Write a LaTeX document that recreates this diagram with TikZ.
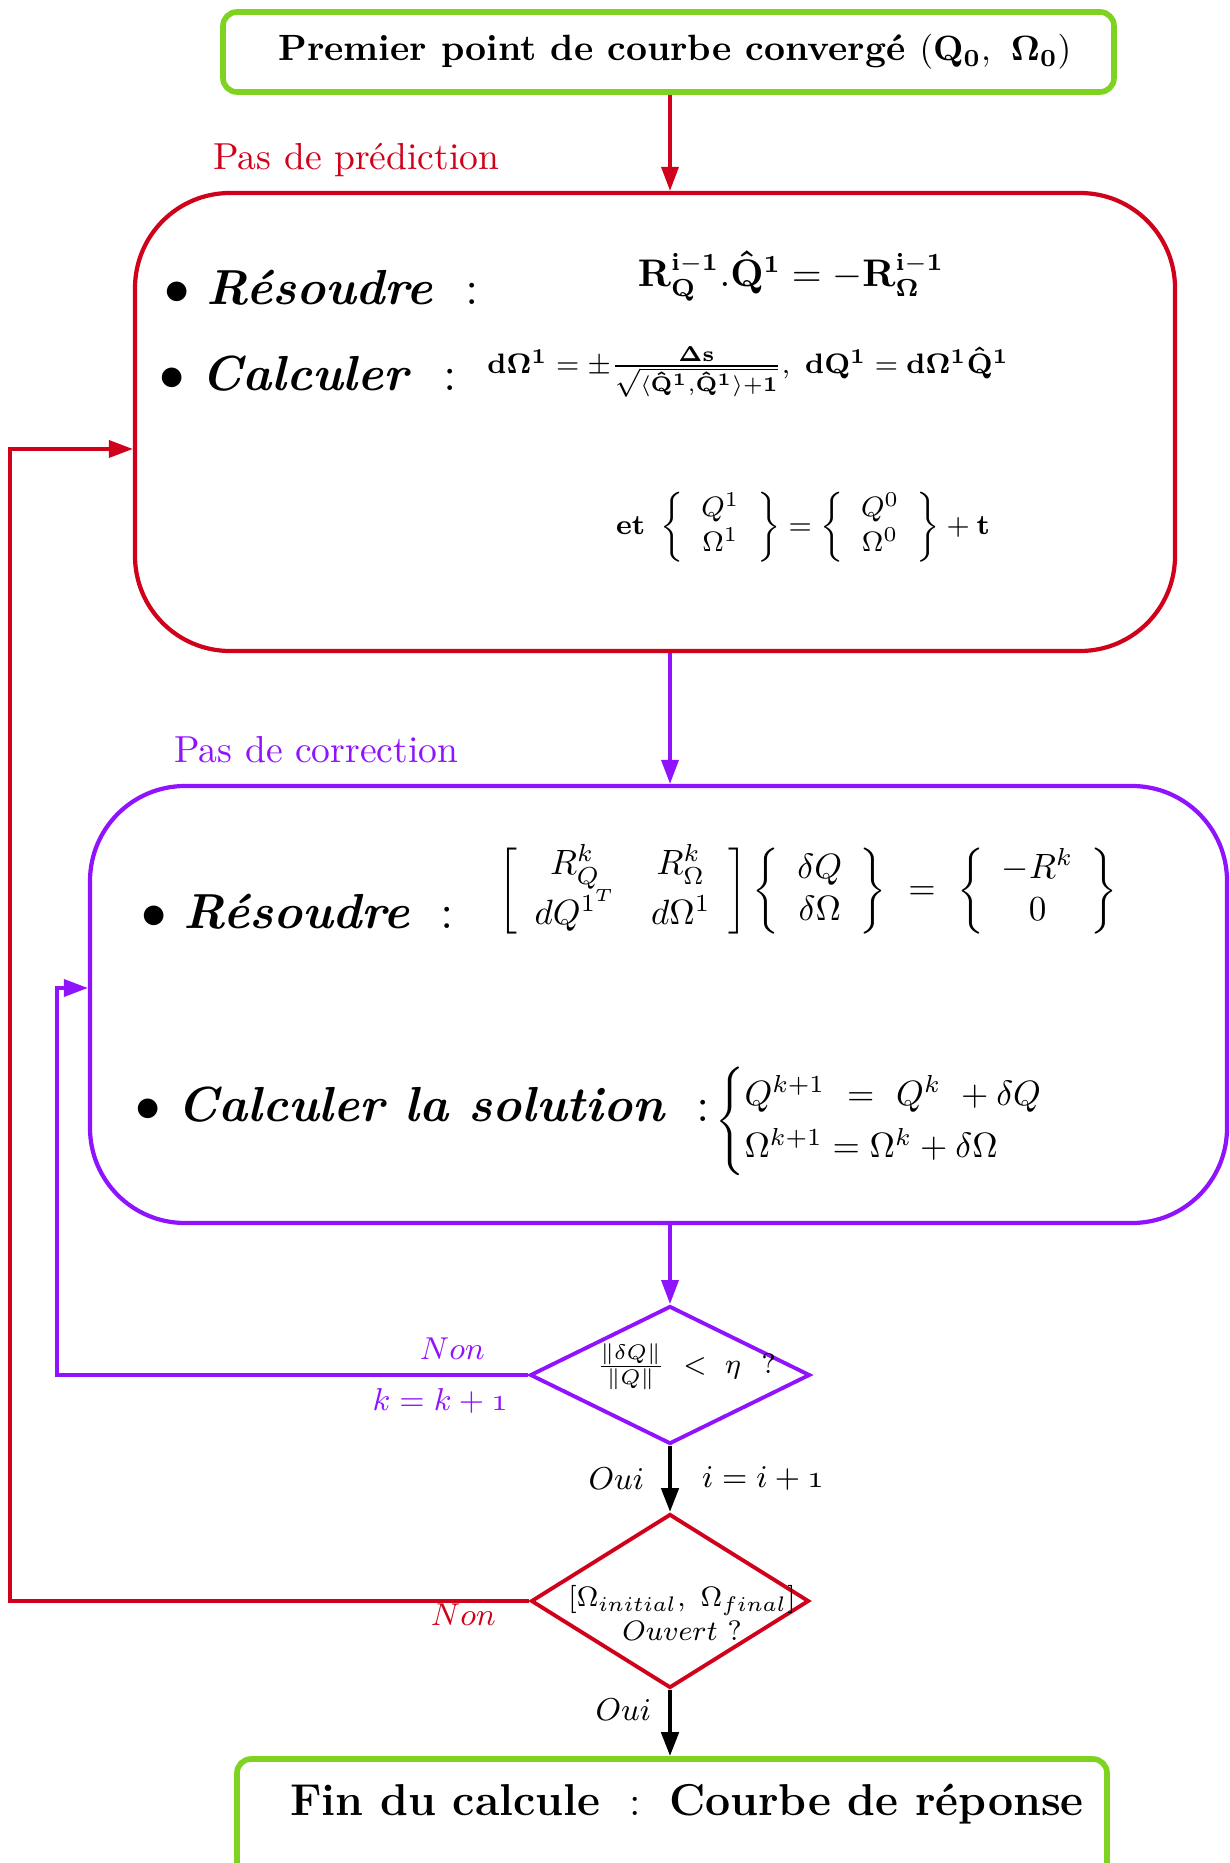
\documentclass[tikz,border=0pt]{standalone}
\usepackage{amsmath,amssymb}
\usepackage{tikz}
\usetikzlibrary{positioning,shapes.geometric,arrows.meta}

\definecolor{vertC}{RGB}{126,211,33}
\definecolor{rougeC}{RGB}{208,2,27}
\definecolor{violetC}{RGB}{144,19,254}

\begin{document}
\begin{tikzpicture}[>={Triangle[length=0.24cm,width=0.17cm]},
  bord/.style={draw=vertC,line width=1.6pt,rounded corners=0.14cm},
  bloc/.style={line width=1.2pt,rounded corners=0.95cm},
  decision/.style={diamond,line width=1.1pt,inner sep=0pt},
  fleche/.style={->,line width=1pt},
  puce/.style={anchor=west,font=\fontsize{14}{17}\selectfont}]
\useasboundingbox (0,0) rectangle (12.29,-18.63);

% boites
\node[bord,minimum width=8.91cm,minimum height=0.80cm] (debut) at (6.685,-0.52) {};
\node (tdebut) at (6.75,-0.52)
  {\fontsize{10.4}{13}\selectfont\bfseries Premier point de courbe convergé $(\mathbf{Q_0},\ \mathbf{\Omega_0})$};
\node[bloc,draw=rougeC,minimum width=10.40cm,minimum height=4.58cm] (pred) at (6.55,-4.22) {};
\node[bloc,draw=violetC,minimum width=11.37cm,minimum height=4.37cm] (corr) at (6.585,-10.045) {};
\node[decision,draw=violetC,minimum width=2.80cm,minimum height=1.38cm] (test1) at (6.70,-13.75) {};
\node[decision,draw=rougeC,minimum width=2.78cm,minimum height=1.74cm] (test2) at (6.70,-16.01) {};
\node[bord,minimum width=8.70cm,minimum height=1.42cm] (fin) at (6.72,-18.30) {};

% titres des pas
\node[rougeC,anchor=west,font=\fontsize{10.7}{13}\selectfont] (lpred) at (2.01,-1.60) {Pas de prédiction};
\node[violetC,anchor=west,font=\fontsize{10.7}{13}\selectfont] (lcorr) at (1.62,-7.50) {Pas de correction};

% prediction
\node[puce] (pres) at (1.52,-2.88) {$\bullet$\hspace{0.17cm}\textbf{\textit{Résoudre}}\hspace{0.32cm}:};
\node (eq1) at (7.91,-2.76) {\fontsize{10.7}{13}\selectfont$\mathbf{R_Q^{i-1}.\hat{Q}^1=-R_\Omega^{i-1}}$};
\node[puce] (pcalc) at (1.47,-3.74) {$\bullet$\hspace{0.17cm}\textbf{\textit{Calculer}}\hspace{0.32cm}:};
\node[anchor=west] (eq2) at (4.75,-3.72)
  {\fontsize{8.2}{10}\selectfont$\mathbf{d\Omega^1=\pm\frac{\Delta s}{\sqrt{\langle\hat{Q}^1,\hat{Q}^1\rangle+1}},\ dQ^1=d\Omega^1\hat{Q}^1}$};
\node (eq3) at (8.03,-5.27) {\fontsize{8.3}{10}\selectfont$\mathbf{et}\ \left\{\begin{array}{c}Q^1\\ \Omega^1\end{array}\right\}
  =\left\{\begin{array}{c}Q^0\\ \Omega^0\end{array}\right\}+\mathbf{t}$};

% correction
\node[puce] (cres) at (1.29,-9.12) {$\bullet$\hspace{0.17cm}\textbf{\textit{Résoudre}}\hspace{0.3cm}:};
\node (eq4) at (8.08,-8.91) {\fontsize{10.2}{12}\selectfont$\left[\begin{array}{cc}R_Q^k & R_\Omega^k\\ dQ^{1^T} & d\Omega^1\end{array}\right]
  \left\{\begin{array}{c}\delta Q\\ \delta\Omega\end{array}\right\}\ =\ \left\{\begin{array}{c}-R^k\\ 0\end{array}\right\}$};
\node[puce] (csol) at (1.23,-11.05) {$\bullet$\hspace{0.17cm}\textbf{\textit{Calculer la solution}}\hspace{0.3cm}:};
\node[anchor=west] (eq5) at (7.03,-11.21) {\fontsize{10.3}{12.5}\selectfont$\begin{cases}Q^{k+1}\ =\ Q^k\ +\delta Q\\ \Omega^{k+1}=\Omega^k+\delta\Omega\end{cases}$};

% tests
\node[font=\fontsize{8.5}{10}\selectfont] (qtest1) at (6.86,-13.67) {$\frac{\|\delta Q\|}{\|Q\|}\ <\ \eta\ \ ?$};
\node[align=center,inner sep=0pt,font=\footnotesize] (qtest2) at (6.82,-16.13) {$[\Omega_{initial},\ \Omega_{final}]$\\ $Ouvert\ ?$};
\node (tfin) at (6.87,-18.04) {\fontsize{12.7}{15}\selectfont\bfseries Fin du calcule $\;:\;$ Courbe de réponse};

% liaisons
\draw[fleche,rougeC] (debut.south -| test1) -- (test1 |- pred.north);
\draw[fleche,violetC] (test1 |- pred.south) -- (test1 |- corr.north);
\draw[fleche,violetC] (corr.south -| test1) -- (test1.north);
\draw[fleche,line width=1.3pt] (test1.south) -- node[left=0.12cm,font=\small] (oui1) {$Oui$}
  node[right=0.18cm,font=\small] (iinc) {$i=i+\mathnormal{1}$} (test2.north);
\draw[fleche,line width=1.3pt] (test2.south) -- node[pos=0.3,left=0.05cm,font=\small] (oui2) {$Oui$} (test2.south |- fin.north);

% boucles
\coordinate (bk) at (0.57,-9.88);
\coordinate (bi) at (0.10,-4.49);
\draw[fleche,violetC] (test1.west) -| (bk) -- (bk -| corr.west);
\draw[fleche,rougeC] (test2.west) -| (bi) -- (bi -| pred.west);
\node[violetC,font=\small,above left=0.03cm and 0.31cm of test1.west] (non1) {$Non$};
\node[violetC,font=\small,below left=0.01cm and 0.08cm of test1.west] (kinc) {$k=k+\mathnormal{1}$};
\node[rougeC,font=\small,below left=-0.1cm and 0.21cm of test2.west] (non2) {$Non$};
\end{tikzpicture}
\end{document}
